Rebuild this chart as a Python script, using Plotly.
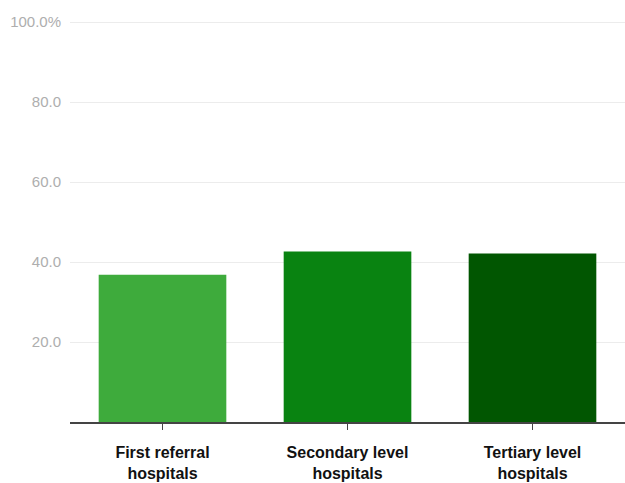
import plotly.graph_objects as go

categories = ["First referral<br>hospitals", "Secondary level<br>hospitals", "Tertiary level<br>hospitals"]
values = [36.8, 42.6, 42.1]
colors = ["#3eab3c", "#098311", "#015601"]
y_tickvals = [20, 40, 60, 80, 100]
y_ticktext = ["20.0", "40.0", "60.0", "80.0", "100.0%"]

fig = go.Figure(go.Bar(
    x=categories, y=values,
    marker=dict(color=colors, line=dict(width=0)),
    hoverinfo="skip",
))

fig.update_layout(
    width=625, height=483,
    margin=dict(l=70, r=0, t=14, b=61),
    paper_bgcolor="white", plot_bgcolor="white",
    bargap=0.31,
    showlegend=False,
    font=dict(family="Liberation Sans, Arial, sans-serif"),
)
fig.update_yaxes(
    range=[0, 102], tickvals=y_tickvals, ticktext=y_ticktext,
    showgrid=True, gridcolor="#ececec", gridwidth=1,
    zeroline=False, showline=False, ticks="",
    tickfont=dict(size=15, color="#aeaeae"),
    ticklabelstandoff=8, automargin=False,
)
fig.update_xaxes(
    showline=True, linecolor="#444444", linewidth=1.5,
    ticks="outside", ticklen=6, tickcolor="#444444", tickwidth=1,
    tickfont=dict(size=16, color="#111111", family="Liberation Sans, Arial, sans-serif", weight="bold"),
    ticklabelstandoff=9, automargin=False,
)

fig.write_html("out.html")
